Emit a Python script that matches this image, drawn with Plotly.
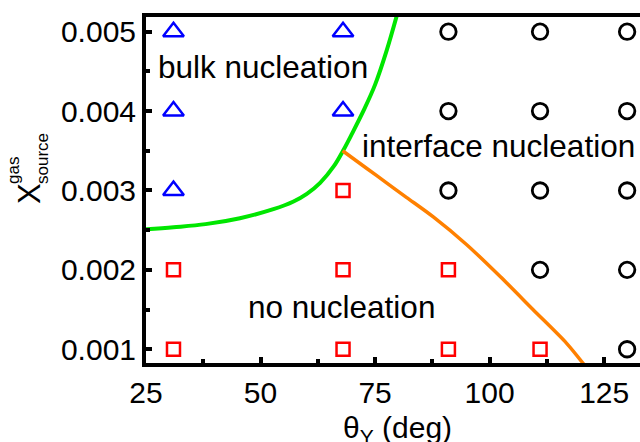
import plotly.graph_objects as go

# ---- data ----
tri_x = [31, 68, 31, 68, 31]
tri_y = [0.005, 0.005, 0.004, 0.004, 0.003]

sq_x = [68, 31, 68, 91, 31, 68, 91, 111]
sq_y = [0.003, 0.002, 0.002, 0.002, 0.001, 0.001, 0.001, 0.001]

circ_x = [91, 111, 130, 91, 111, 130, 91, 111, 130, 111, 130, 130]
circ_y = [0.005, 0.005, 0.005, 0.004, 0.004, 0.004, 0.003, 0.003, 0.003, 0.002, 0.002, 0.001]

green_x = [25.0, 31.0, 38.0, 45.5, 52.8, 57.2, 60.1, 63.0, 66.0, 68.0, 70.0, 72.5, 75.0, 77.5, 80.0]
green_y = [0.00251, 0.002537, 0.002576, 0.002651, 0.002764, 0.002861, 0.002957, 0.003096, 0.003306,
           0.0035, 0.00372, 0.004008, 0.004333, 0.004758, 0.005258]

orange_x = [67.9, 73.2, 77.5, 81.9, 87.7, 95.0, 102.3, 109.5, 116.8, 120.7]
orange_y = [0.0035, 0.003277, 0.003096, 0.002911, 0.002667, 0.002317, 0.001916, 0.001498, 0.001075, 0.0008]

x_ticks = [25, 50, 75, 100, 125]
y_ticks = [0.001, 0.002, 0.003, 0.004, 0.005]
y_tick_text = ["0.001", "0.002", "0.003", "0.004", "0.005"]

FONT = "Liberation Sans, Arial, sans-serif"

fig = go.Figure()
fig.add_trace(go.Scatter(x=green_x, y=green_y, mode="lines",
                         line=dict(color="#00E600", width=4, shape="spline", smoothing=1.0),
                         hoverinfo="skip"))
fig.add_trace(go.Scatter(x=orange_x, y=orange_y, mode="lines",
                         line=dict(color="#FF8000", width=3.5, shape="spline", smoothing=0.8),
                         hoverinfo="skip"))
fig.add_trace(go.Scatter(x=tri_x, y=tri_y, mode="markers",
                         marker=dict(symbol="triangle-up-open", size=18, color="#0000FF",
                                     line=dict(width=2.5, color="#0000FF"))))
fig.add_trace(go.Scatter(x=sq_x, y=sq_y, mode="markers",
                         marker=dict(symbol="square-open", size=13, color="#FF0000",
                                     line=dict(width=2.5, color="#FF0000"))))
fig.add_trace(go.Scatter(x=circ_x, y=circ_y, mode="markers", cliponaxis=True,
                         marker=dict(symbol="circle-open", size=15.5, color="#000000",
                                     line=dict(width=2.8, color="#000000"))))

ann_font = dict(family=FONT, size=31.5, color="black")
annotations = [
    dict(x=50.5, y=0.00455, xref="x", yref="y", text="bulk nucleation", showarrow=False,
         font=ann_font, xanchor="center", yanchor="middle"),
    dict(x=102.0, y=0.00356, xref="x", yref="y", text="interface nucleation", showarrow=False,
         font=ann_font, xanchor="center", yanchor="middle"),
    dict(x=67.7, y=0.00153, xref="x", yref="y", text="no nucleation", showarrow=False,
         font=ann_font, xanchor="center", yanchor="middle"),
]

W, H = 640, 442
L, R, T, B = 146, 0, 17, 79
pw, ph = W - L - R, H - T - B


def px_to_paper(px, py):
    return (px - L) / pw, (H - B - py) / ph


# x axis title
tx, ty = px_to_paper(397, 429)
annotations.append(dict(x=tx, y=ty, xref="paper", yref="paper", showarrow=False,
                        text="θ<sub>Y</sub> (deg)", font=dict(family=FONT, size=30, color="black"),
                        xanchor="center", yanchor="middle"))
# y axis title: X with stacked super/subscript
ax_, ay_ = px_to_paper(29, 194)
annotations.append(dict(x=ax_, y=ay_, xref="paper", yref="paper", showarrow=False, text="X",
                        textangle=-90, font=dict(family=FONT, size=31, color="black"),
                        xanchor="center", yanchor="middle"))
gx, gy = px_to_paper(13, 171)
annotations.append(dict(x=gx, y=gy, xref="paper", yref="paper", showarrow=False, text="gas",
                        textangle=-90, font=dict(family=FONT, size=17, color="black"),
                        xanchor="center", yanchor="middle"))
sx, sy = px_to_paper(42, 159)
annotations.append(dict(x=sx, y=sy, xref="paper", yref="paper", showarrow=False, text="source",
                        textangle=-90, font=dict(family=FONT, size=17, color="black"),
                        xanchor="center", yanchor="middle"))

fig.update_layout(
    width=W, height=H,
    margin=dict(l=L, r=R, t=T, b=B, pad=0),
    paper_bgcolor="white", plot_bgcolor="white",
    showlegend=False,
    annotations=annotations,
    xaxis=dict(range=[25, 25 + pw / 4.582], tickvals=x_ticks, ticktext=[str(v) for v in x_ticks],
               ticks="inside", ticklen=6, tickwidth=3.5, tickcolor="black",
               showline=True, linewidth=4, linecolor="black", mirror=True,
               showgrid=False, zeroline=False, automargin=False,
               tickfont=dict(family=FONT, size=30, color="black"),
               minor=dict(ticks="inside", ticklen=4, tickwidth=3.5, tickcolor="black",
                          tick0=25, dtick=12.5, showgrid=False)),
    yaxis=dict(range=[0.000827, 0.005185], tickvals=y_ticks, ticktext=y_tick_text,
               ticks="inside", ticklen=6, tickwidth=3.5, tickcolor="black",
               showline=True, linewidth=4, linecolor="black", mirror=False,
               showgrid=False, zeroline=False, automargin=False,
               tickfont=dict(family=FONT, size=30, color="black"),
               minor=dict(ticks="inside", ticklen=4, tickwidth=3.5, tickcolor="black",
                          tick0=0, dtick=0.0005, showgrid=False)),
)

fig.write_html("out.html", config={"displayModeBar": False},
               post_script="document.body.style.margin='0';document.body.style.overflow='hidden';")
